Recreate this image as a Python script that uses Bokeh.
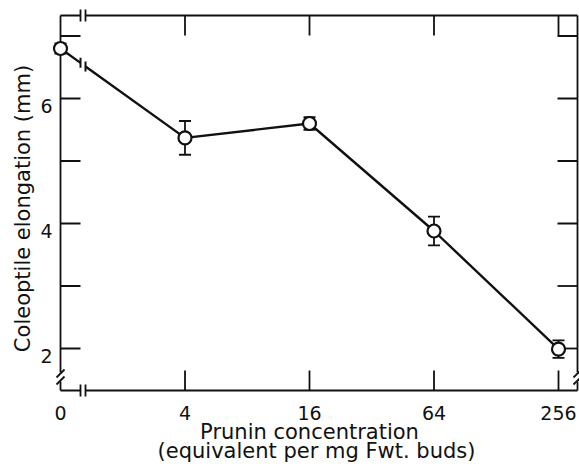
import numpy as np
from bokeh.plotting import figure
from bokeh.models import ColumnDataSource, Whisker, TeeHead
from bokeh.core.properties import value
from bokeh.embed import file_html
from bokeh.resources import INLINE

# ---- data ----
concentration = [0, 4, 16, 64, 256]
tick_labels = ["0", "4", "16", "64", "256"]
elongation = [6.80, 5.37, 5.60, 3.88, 1.99]
error = [0.08, 0.27, 0.10, 0.23, 0.14]
y_major = [2, 4, 6]
y_ticks = [2, 3, 4, 5, 6, 7]
x_title = ["Prunin concentration", "(equivalent per mg Fwt. buds)"]
y_title = "Coleoptile elongation (mm)"

# log4 positions; the zero control sits one step left of 4
xpos = [0.0 if c == 0 else float(np.log(c) / np.log(4)) for c in concentration]

# ---- layout ----
W, H = 579, 464
PX = 124.5   # px per x unit
PY = 62.5    # px per y unit
X0 = -60 / PX
X1 = X0 + W / PX
Y1 = 6 + 98 / PY
Y0 = Y1 - H / PY

def dx(px):
    return px / PX

def dy(px):
    return px / PY

XL, XR = 0.0, dx(577 - 60)
YT, YB = 6 + dy(98 - 15), 6 - dy(390 - 98)
BX1, BX2 = dx(20), dx(25)
BY1, BY2 = 6 - dy(372 - 98), 6 - dy(381 - 98)

INK = "#111111"
FONT = "DejaVu Sans"

p = figure(width=W, height=H, x_range=(X0, X1), y_range=(Y0, Y1),
           output_backend="svg", toolbar_location=None, min_border=0)
p.axis.visible = False
p.grid.visible = False
p.outline_line_color = None
p.background_fill_color = "white"
p.border_fill_color = "white"

# ---- axes frame with breaks ----
sx0, sy0, sx1, sy1 = [], [], [], []
def seg(a, b, c, d):
    sx0.append(a); sy0.append(b); sx1.append(c); sy1.append(d)

# top and bottom lines broken near the origin
for yy in (YT, YB):
    seg(XL, yy, BX1, yy)
    seg(BX2, yy, XR, yy)
    seg(BX1, yy - dy(6), BX1, yy + dy(6))
    seg(BX2, yy - dy(6), BX2, yy + dy(6))
# left and right lines broken near the bottom
for xx in (XL, XR):
    seg(xx, YT, xx, BY1)
    seg(xx, BY2, xx, YB)
    seg(xx - dx(4), BY1 - dy(5), xx + dx(4), BY1 + dy(3))
    seg(xx - dx(4), BY2 - dy(3), xx + dx(4), BY2 + dy(5))
# ticks
for xv in xpos[1:]:
    seg(xv, YB, xv, YB + dy(20))
    seg(xv, YT, xv, YT - dy(20))
for yv in y_ticks:
    seg(XL, yv, XL + dx(20), yv)
    seg(XR, yv, XR - dx(20), yv)
p.segment(sx0, sy0, sx1, sy1, line_color=INK, line_width=1.8)

# ---- data line (broken between the control and 4) ----
yb1 = float(np.interp(BX1, xpos[:2], elongation[:2]))
yb2 = float(np.interp(BX2, xpos[:2], elongation[:2]))
p.line([xpos[0], BX1], [elongation[0], yb1], line_color=INK, line_width=2.4)
p.line([BX2] + xpos[1:], [yb2] + elongation[1:], line_color=INK, line_width=2.4)
p.segment([BX1, BX2], [yb1 - dy(5), yb2 - dy(5)], [BX1, BX2], [yb1 + dy(5), yb2 + dy(5)],
          line_color=INK, line_width=2)

src = ColumnDataSource(dict(
    x=xpos, y=elongation,
    upper=[e + s for e, s in zip(elongation, error)],
    lower=[e - s for e, s in zip(elongation, error)],
))
wk = Whisker(base="x", upper="upper", lower="lower", source=src, dimension="height",
             line_color=INK, line_width=1.8,
             upper_head=TeeHead(size=12, line_color=INK, line_width=1.8),
             lower_head=TeeHead(size=12, line_color=INK, line_width=1.8))
p.add_layout(wk)
p.scatter("x", "y", source=src, size=13, fill_color="white", line_color=INK, line_width=2.2)

# ---- tick labels ----
p.text(x=xpos, y=[6 - dy(412 - 98)] * len(xpos), text=tick_labels,
       text_font=value(FONT), text_font_size="19px", text_color=INK,
       text_align="center", text_baseline="alphabetic")
p.text(x=[-dx(8)] * len(y_major), y=[v - dy(7) for v in y_major], text=[str(v) for v in y_major],
       text_font=value(FONT), text_font_size="19px", text_color=INK,
       text_align="right", text_baseline="alphabetic")

# ---- axis titles ----
p.text(x=[dx(309 - 60), dx(316 - 60)], y=[6 - dy(431 - 98), 6 - dy(450 - 98)], text=x_title,
       text_font=value(FONT), text_font_size="21px", text_color=INK,
       text_align="center", text_baseline="alphabetic")
p.text(x=[-dx(60 - 22)], y=[6 - dy(208 - 98)], text=[y_title], angle=np.pi / 2,
       text_font=value(FONT), text_font_size="21px", text_color=INK,
       text_align="center", text_baseline="alphabetic")

open("out.html", "w").write(file_html(p, INLINE))
